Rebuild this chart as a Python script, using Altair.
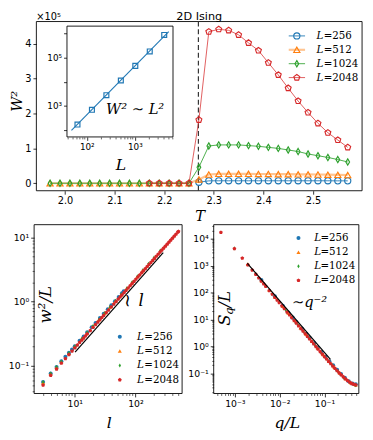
import altair as alt
import pandas as pd

# ------------------------------------------------------------------ data
L_LABELS = ["256", "512", "1024", "2048"]
COLORS = ["#1f77b4", "#ff7f0e", "#2ca02c", "#d62728"]
SHAPES = ["circle", "triangle-up", "M0,-1L0.6,0L0,1L-0.6,0Z",
          "M0,-1L0.951,-0.309L0.588,0.809L-0.588,0.809L-0.951,-0.309Z"]

T_VALUES = [1.97, 1.99, 2.01, 2.03, 2.05, 2.07, 2.09, 2.11, 2.13, 2.15,
            2.17, 2.19, 2.21, 2.23, 2.25, 2.27, 2.29, 2.31, 2.33, 2.35,
            2.37, 2.39, 2.41, 2.43, 2.45, 2.47, 2.49, 2.51, 2.53, 2.55, 2.57]
# W^2 in units of 1e5
W2_256 = [None, None, None, None, None, None, None, None, None, None,
          None, None, None, None, None, 0.028, 0.068, 0.07, 0.07, 0.07,
          0.07, 0.07, 0.07, 0.07, 0.07, 0.07, 0.07, 0.07, 0.07, 0.068, 0.068]
W2_512 = [0.0, 0.0, 0.0, 0.0, 0.0, 0.0, 0.0, 0.0, 0.0, 0.0,
          0.0, 0.0, 0.0, 0.0, 0.0, 0.11, 0.25, 0.27, 0.27, 0.27,
          0.27, 0.265, 0.265, 0.26, 0.26, 0.255, 0.255, 0.25, 0.245, 0.24, 0.235]
W2_1024 = [0.0, 0.0, 0.0, 0.0, 0.0, 0.0, 0.0, 0.0, 0.0, 0.0,
           0.0, 0.0, 0.0, 0.0, 0.0, 0.46, 1.07, 1.10, 1.10, 1.10,
           1.08, 1.06, 1.03, 1.00, 0.955, 0.91, 0.84, 0.79, 0.74, 0.68, 0.61]
W2_2048 = [None, None, None, None, None, None, None, None, None, None,
           0.0, 0.0, 0.0, 0.0, 0.0, 1.82, 4.35, 4.42, 4.39, 4.26,
           4.03, 3.81, 3.46, 3.11, 2.73, 2.36, 2.03, 1.72, 1.45, 1.24, 1.03]
T_C = 2.269

INSET_L = [64, 128, 256, 512, 1024, 2048, 4096]
INSET_W2 = [169, 690, 2790, 11350, 46000, 182000, 880000]
INSET_FIT_L = [48, 5080]
INSET_FIT_W2 = [97, 1.21e6]

BL_L_256 = [3, 4, 5, 6, 7, 8, 9, 10, 12, 14, 16, 19, 22, 26, 30, 35, 40, 46, 53, 60, 64]
BL_W_256 = [0.056, 0.076, 0.096, 0.118, 0.138, 0.159, 0.180, 0.201, 0.245, 0.287, 0.332,
            0.398, 0.464, 0.554, 0.646, 0.760, 0.876, 1.015, 1.180, 1.345, 1.441]
BL_L_512 = [3, 4, 5, 6, 8, 10, 13, 16, 20, 25, 31, 38, 47, 58, 72, 88, 108, 128]
BL_W_512 = [0.055, 0.075, 0.095, 0.115, 0.156, 0.198, 0.261, 0.326, 0.412, 0.522, 0.655,
            0.813, 1.019, 1.274, 1.602, 1.981, 2.462, 2.947]
BL_L_1024 = [3, 4, 5, 6, 8, 10, 13, 16, 20, 25, 31, 38, 47, 58, 72, 88, 108, 133, 164, 202, 256]
BL_W_1024 = [0.056, 0.076, 0.096, 0.117, 0.158, 0.200, 0.264, 0.329, 0.416, 0.527, 0.662,
             0.821, 1.029, 1.286, 1.617, 2.000, 2.485, 3.099, 3.869, 4.827, 6.203]
BL_L_2048 = [3, 4, 5, 6, 7, 8, 9, 10, 11, 12, 13, 14, 15, 16, 18, 20, 22, 24, 26, 28, 30,
             33, 36, 40, 44, 48, 52, 56, 60, 65, 70, 76, 82, 88, 95, 102, 110, 118, 127,
             136, 146, 157, 168, 180, 193, 207, 222, 238, 255, 273, 292, 313, 335, 358,
             383, 410, 438, 468, 500, 512]
BL_W_2048 = [0.050, 0.071, 0.089, 0.110, 0.129, 0.150, 0.170, 0.190, 0.210, 0.231, 0.251,
             0.271, 0.292, 0.313, 0.354, 0.396, 0.438, 0.481, 0.523, 0.566, 0.609, 0.674,
             0.739, 0.826, 0.914, 1.002, 1.091, 1.180, 1.269, 1.382, 1.495, 1.631, 1.768,
             1.905, 2.066, 2.228, 2.413, 2.600, 2.810, 3.022, 3.258, 3.519, 3.781, 4.068,
             4.380, 4.717, 5.080, 5.469, 5.884, 6.325, 6.79, 7.31, 7.86, 8.43, 9.06, 9.73,
             10.44, 11.20, 12.01, 12.32]
BL_FIT_L = [10.1, 287]
BL_FIT_W = [0.163, 5.77]

BR_Q_256 = [0.003906, 0.007813, 0.01172, 0.01563, 0.01953, 0.02344, 0.03125, 0.03906,
            0.04688, 0.05859, 0.07031, 0.08594, 0.1055, 0.1289, 0.1563, 0.1914, 0.2344,
            0.2852, 0.3477, 0.4219, 0.5]
BR_S_256 = [293, 73.0, 32.5, 18.3, 11.7, 8.13, 4.58, 2.94, 2.04, 1.31, 0.917, 0.619,
            0.416, 0.283, 0.198, 0.137, 0.094, 0.068, 0.051, 0.042, 0.039]
BR_Q_512 = [0.001953, 0.003906, 0.005859, 0.007813, 0.01172, 0.01563, 0.02148, 0.0293,
            0.03906, 0.05273, 0.07031, 0.09375, 0.125, 0.166, 0.2207, 0.293, 0.3906, 0.5]
BR_S_512 = [1115, 279, 124, 69.7, 31.0, 17.4, 9.23, 4.97, 2.80, 1.54, 0.875, 0.498,
            0.287, 0.168, 0.102, 0.064, 0.045, 0.038]
BR_Q_1024 = [0.000977, 0.001953, 0.00293, 0.003906, 0.004883, 0.006836, 0.009766, 0.01367,
             0.01855, 0.02539, 0.03418, 0.0459, 0.06152, 0.08301, 0.1113, 0.1494, 0.2002,
             0.2686, 0.3604, 0.4834, 0.5]
BR_S_1024 = [4350, 1090, 485, 273, 175, 89.0, 43.6, 22.3, 12.1, 6.46, 3.57, 1.99, 1.11,
             0.617, 0.349, 0.200, 0.118, 0.070, 0.047, 0.037, 0.036]
BR_Q_2048 = [0.000488, 0.000977, 0.001465, 0.001953, 0.002441, 0.00293, 0.003418, 0.003906,
             0.004395, 0.004883, 0.005859, 0.006836, 0.007813, 0.008789, 0.009766, 0.01123,
             0.0127, 0.01465, 0.0166, 0.01855, 0.021, 0.02344, 0.02637, 0.02979, 0.0332,
             0.03711, 0.0415, 0.04639, 0.05176, 0.05762, 0.06445, 0.07178, 0.08008, 0.08936,
             0.09961, 0.1108, 0.1235, 0.1377, 0.1533, 0.1709, 0.1904, 0.2119, 0.2358, 0.2627,
             0.2925, 0.3257, 0.3628, 0.4038, 0.4497, 0.5]
BR_S_2048 = [17000, 4250, 1889, 1062, 680, 472, 347, 266, 210, 170, 118, 86.8, 66.4, 52.5,
             42.5, 32.2, 25.2, 18.9, 14.7, 11.8, 9.21, 7.39, 5.84, 4.58, 3.69, 2.96, 2.37,
             1.90, 1.53, 1.23, 0.989, 0.800, 0.645, 0.521, 0.422, 0.344, 0.279, 0.228, 0.186,
             0.153, 0.126, 0.105, 0.088, 0.074, 0.063, 0.054, 0.047, 0.042, 0.039, 0.037]
BR_FIT_Q = [0.0019, 0.136]
BR_FIT_S = [1200, 0.33]

# ------------------------------------------------------------------ layout helpers
M = 8
W, H = 357, 424


def cx(p):
    return p - M


def cy(p):
    return p - M


def lin(dom, rng):
    return alt.Scale(type="linear", domain=dom, range=rng, zero=False, nice=False)


def lg(dom, rng):
    return alt.Scale(type="log", domain=dom, range=rng, nice=False)


MATH = "DejaVu Serif"
SANS = "DejaVu Sans"
SUP = str.maketrans("-0123456789", "⁻⁰¹²³⁴⁵⁶⁷⁸⁹")
PT_SIZE = 17


def pow_expr(exps):
    s = ""
    for e in exps:
        s += f"abs(log(datum.value)/LN10 - ({e})) < 0.01 ? '10{str(e).translate(SUP)}' : "
    return s + "''"


def axis(orient, offset, values, **kw):
    base = dict(orient=orient, offset=offset, values=values, domain=False, grid=False,
                ticks=True, tickSize=3.5, tickWidth=0.8, tickColor="#000",
                labelFont=SANS, labelFontSize=10, labelColor="#000", labelPadding=2,
                labelOverlap=False, labelFlush=False, labelBound=False,
                titleFont=MATH, titleFontStyle="italic", titleFontWeight="normal",
                titleColor="#000", title="")
    base.update(kw)
    return alt.Axis(**base)


class Panel:
    def __init__(self, xs, ys, xa, ya, xdom, ydom):
        self.xs, self.ys, self.xa, self.ya = xs, ys, xa, ya
        self.xdom, self.ydom = xdom, ydom

    def x(self, f):
        return alt.X(f, type="quantitative", scale=self.xs, axis=self.xa)

    def y(self, f):
        return alt.Y(f, type="quantitative", scale=self.ys, axis=self.ya)

    def xd(self, v):
        return alt.XDatum(v, type="quantitative", scale=self.xs, axis=self.xa)

    def yd(self, v):
        return alt.YDatum(v, type="quantitative", scale=self.ys, axis=self.ya)


ONE = pd.DataFrame({"k": [0]})
COL = alt.Color("L:N", scale=alt.Scale(domain=L_LABELS, range=COLORS), legend=None)
SHP = alt.Shape("L:N", scale=alt.Scale(domain=L_LABELS, range=SHAPES), legend=None)


def frame(p, fill="#ffffff", fo=0.0):
    return alt.Chart(ONE).mark_rect(fill=fill, fillOpacity=fo, stroke="#000",
                                    strokeWidth=0.9).encode(
        x=p.xd(p.xdom[0]), x2=alt.X2Datum(p.xdom[1]),
        y=p.yd(p.ydom[0]), y2=alt.Y2Datum(p.ydom[1]))


def text(p, x, y, s, **kw):
    return alt.Chart(ONE).mark_text(text=s, **kw).encode(x=p.xd(x), y=p.yd(y))


def minor_child(scale, orient, offset, vals, ch):
    df = pd.DataFrame({"v": vals})
    ax = alt.Axis(orient=orient, offset=offset, values=vals, labels=False, domain=False,
                  grid=False, ticks=True, tickSize=2, tickWidth=0.6, tickColor="#000",
                  title="")
    enc = alt.X("v:Q", scale=scale, axis=ax) if ch == "x" else alt.Y("v:Q", scale=scale, axis=ax)
    return alt.Chart(df).mark_rule(opacity=0).encode(**{ch: enc})


def minors(lo, hi):
    out = []
    for e in range(-5, 7):
        for m in range(2, 10):
            v = m * 10.0 ** e
            if lo < v < hi:
                out.append(v)
    return out


# ------------------------------------------------------------------ top panel
TX_DOM = [1.9424, 2.5989]
TY_DOM = [-0.216, 4.643]
TOP = Panel(
    lin(TX_DOM, [cx(37), cx(370)]), lin(TY_DOM, [cy(190), cy(17)]),
    axis("bottom", cy(190) - H, [2.0, 2.1, 2.2, 2.3, 2.4, 2.5], format=".1f",
         title="T", titleFontSize=15, titleX=cx(204), titleY=cy(220) - cy(190),
         titleAlign="center", titleBaseline="alphabetic", titleAngle=0),
    axis("left", -cx(37), [0, 1, 2, 3, 4], format="d",
         title="W²", titleFontSize=15, titleAngle=270, titleX=cx(21.5) - cx(37),
         titleY=cy(98), titleAlign="center", titleBaseline="alphabetic"),
    TX_DOM, TY_DOM)

top_layers = [
    frame(TOP),
    alt.Chart(ONE).mark_rule(strokeDash=[5, 3], color="#333", strokeWidth=1.2).encode(
        x=TOP.xd(T_C), y=TOP.yd(TY_DOM[0]), y2=alt.Y2Datum(TY_DOM[1])),
]
line_style = {"256": (1.0, 0.9), "512": (2.2, 0.45), "1024": (1.0, 0.85), "2048": (1.0, 0.75)}
for lab, vals in zip(L_LABELS, [W2_256, W2_512, W2_1024, W2_2048]):
    df = pd.DataFrame({"T": T_VALUES, "W2": vals}).dropna()
    df["L"] = lab
    lw, op = line_style[lab]
    top_layers.append(alt.Chart(df).mark_line(strokeWidth=lw, opacity=op).encode(
        x=TOP.x("T"), y=TOP.y("W2"), color=COL))
    top_layers.append(alt.Chart(df).mark_point(filled=False, size=40, strokeWidth=1.15,
                                               opacity=1).encode(
        x=TOP.x("T"), y=TOP.y("W2"), color=COL, shape=SHP))
top_layers.append(text(TOP, 2.2707, 4.699, "2D Ising", font=SANS, fontSize=11.5,
                       align="center", baseline="alphabetic", color="#000"))
top_layers.append(text(TOP, TX_DOM[0], 4.699, "×10⁵", font=SANS, fontSize=10,
                       align="left", baseline="alphabetic", color="#000"))
top_panel = alt.layer(*top_layers)

# ------------------------------------------------------------------ inset
IX_DOM = [38.7, 6240]
IY_DOM = [51.8, 2.04e6]
INS = Panel(
    lg(IX_DOM, [cx(68.3), cx(176.7)]), lg(IY_DOM, [cy(135), cy(21.7)]),
    axis("bottom", cy(135) - H, [100, 1000], labelExpr=pow_expr([2, 3]), labelFontSize=9,
         title="L", titleFontSize=16, titleX=cx(123), titleY=cy(168) - cy(135),
         titleAlign="center", titleBaseline="alphabetic", titleAngle=0),
    axis("left", -cx(68.3), [1e2, 1e3, 1e4, 1e5, 1e6], labelExpr=pow_expr([3, 5]),
         labelFontSize=9),
    IX_DOM, IY_DOM)
ins_pts = pd.DataFrame({"Lv": INSET_L, "W2": INSET_W2})
ins_fit = pd.DataFrame({"Lv": INSET_FIT_L, "W2": INSET_FIT_W2})
inset_panel = alt.layer(
    frame(INS, fo=1.0),
    alt.Chart(ins_fit).mark_line(color="#1f77b4", strokeWidth=1.1).encode(
        x=INS.x("Lv"), y=INS.y("W2")),
    alt.Chart(ins_pts).mark_point(shape="square", filled=False, size=25, strokeWidth=1.2,
                                  color="#1f77b4", opacity=1).encode(
        x=INS.x("Lv"), y=INS.y("W2")),
    text(INS, 1018, 741, "W² ∼ L²", font=MATH, fontStyle="italic", fontSize=15,
         align="center", baseline="middle", color="#000"),
)

# ------------------------------------------------------------------ bottom-left
BLX_DOM = [2.133, 587.6]
BLY_DOM = [0.0371, 15.72]
BL = Panel(
    lg(BLX_DOM, [cx(34.7), cx(186)]), lg(BLY_DOM, [cy(397.3), cy(224.7)]),
    axis("bottom", cy(397.3) - H, [10, 100], labelExpr=pow_expr([1, 2]), labelFontSize=9.5,
         title="l", titleFontSize=16, titleX=cx(111), titleY=cy(432) - cy(397.3),
         titleAlign="center", titleBaseline="alphabetic", titleAngle=0),
    axis("left", -cx(34.7), [0.1, 1, 10], labelExpr=pow_expr([-1, 0, 1]), labelFontSize=9.5),
    BLX_DOM, BLY_DOM)
bl_layers = [frame(BL)]
for lab, ls, ws in zip(L_LABELS, [BL_L_256, BL_L_512, BL_L_1024, BL_L_2048],
                       [BL_W_256, BL_W_512, BL_W_1024, BL_W_2048]):
    df = pd.DataFrame({"l": ls, "w": ws, "L": lab})
    bl_layers.append(alt.Chart(df).mark_point(filled=True, size=PT_SIZE, opacity=1).encode(
        x=BL.x("l"), y=BL.y("w"), color=COL, shape=SHP))
bl_layers.append(alt.Chart(pd.DataFrame({"l": BL_FIT_L, "w": BL_FIT_W})).mark_line(
    color="#000", strokeWidth=1.2).encode(x=BL.x("l"), y=BL.y("w")))
bl_layers.append(text(BL, 4.06, 0.894, "w²/L", font=MATH, fontStyle="italic", fontSize=17,
                      angle=270, align="center", baseline="alphabetic", color="#000"))
bl_layers.append(text(BL, 73.5, 1.03, "∼", font=MATH, fontSize=18, angle=90,
                      align="center", baseline="middle", color="#000"))
bl_layers.append(text(BL, 123.6, 0.839, "l", font=MATH, fontStyle="italic", fontSize=17,
                      align="center", baseline="alphabetic", color="#000"))
bl_panel = alt.layer(*bl_layers)

# ------------------------------------------------------------------ bottom-right
BRX_DOM = [3.37e-4, 0.585]
BRY_DOM = [0.01786, 33000]
BR = Panel(
    lg(BRX_DOM, [cx(218.3), cx(366.7)]), lg(BRY_DOM, [cy(397.3), cy(224.7)]),
    axis("bottom", cy(397.3) - H, [1e-3, 1e-2, 1e-1], labelExpr=pow_expr([-3, -2, -1]),
         labelFontSize=9.5, title="q/L", titleFontSize=16, titleX=cx(293),
         titleY=cy(432) - cy(397.3), titleAlign="center", titleBaseline="alphabetic",
         titleAngle=0),
    axis("left", -cx(218.3), [0.1, 1, 10, 100, 1000, 10000],
         labelExpr=pow_expr([-1, 0, 1, 2, 3, 4]), labelFontSize=9.5),
    BRX_DOM, BRY_DOM)
br_layers = [frame(BR)]
for lab, qs, ss in zip(L_LABELS, [BR_Q_256, BR_Q_512, BR_Q_1024, BR_Q_2048],
                       [BR_S_256, BR_S_512, BR_S_1024, BR_S_2048]):
    df = pd.DataFrame({"q": qs, "s": ss, "L": lab})
    br_layers.append(alt.Chart(df).mark_point(filled=True, size=PT_SIZE, opacity=1).encode(
        x=BR.x("q"), y=BR.y("s"), color=COL, shape=SHP))
br_layers.append(alt.Chart(pd.DataFrame({"q": BR_FIT_Q, "s": BR_FIT_S})).mark_line(
    color="#000", strokeWidth=1.2).encode(x=BR.x("q"), y=BR.y("s")))
br_layers.append(text(BR, 7.99e-4, 5.87, "S", font=MATH, fontStyle="italic", fontSize=17,
                      angle=270, align="left", baseline="alphabetic", color="#000"))
br_layers.append(text(BR, 9.29e-4, 14.7, "q", font=MATH, fontStyle="italic", fontSize=12,
                      angle=270, align="left", baseline="alphabetic", color="#000"))
br_layers.append(text(BR, 7.99e-4, 27.5, "/L", font=MATH, fontStyle="italic", fontSize=17,
                      angle=270, align="left", baseline="alphabetic", color="#000"))
br_layers.append(text(BR, 0.0188, 28.7, "∼q⁻²", font=MATH, fontStyle="italic", fontSize=15,
                      align="left", baseline="alphabetic", color="#000"))
br_panel = alt.layer(*br_layers)


# ------------------------------------------------------------------ legends
def legend_child(p, y0, y1, sym_x, l_x, eq_x, top_style):
    ysc = alt.Scale(type="point", domain=L_LABELS, range=[cy(y0), cy(y1)], padding=0)
    yenc = alt.Y("L:N", scale=ysc, axis=None)

    def xd(v):
        return alt.XDatum(v, type="quantitative", scale=p.xs, axis=None)

    layers = []
    for lab in L_LABELS:
        d = pd.DataFrame({"L": [lab], "lab": ["=" + lab]})
        if top_style:
            lw, op = line_style[lab]
            layers.append(alt.Chart(d).mark_rule(strokeWidth=lw, opacity=op).encode(
                x=xd(sym_x[0]), x2=alt.X2Datum(sym_x[2]), y=yenc, color=COL))
            layers.append(alt.Chart(d).mark_point(filled=False, size=40, strokeWidth=1.15,
                                                  opacity=1).encode(
                x=xd(sym_x[1]), y=yenc, color=COL, shape=SHP))
        else:
            layers.append(alt.Chart(d).mark_point(filled=True, size=PT_SIZE, opacity=1).encode(
                x=xd(sym_x[1]), y=yenc, color=COL, shape=SHP))
        layers.append(alt.Chart(d).mark_text(text="L", font=MATH, fontStyle="italic",
                                             fontSize=10.5, align="left", baseline="middle",
                                             color="#000").encode(x=xd(l_x), y=yenc))
        layers.append(alt.Chart(d).mark_text(font=MATH, fontSize=10.5, align="left",
                                             baseline="middle", color="#000").encode(
            x=xd(eq_x), y=yenc, text="lab:N"))
    return alt.layer(*layers)


leg_top = legend_child(TOP, 31.7, 74.3, [2.4511, 2.4674, 2.4840], 2.5069, 2.5215, True)
leg_bl = legend_child(BL, 339.3, 383.3, [None, 55.2, None], 106.4, 140.3, False)
leg_br = legend_child(BR, 238.3, 281.7, [None, 0.0263, None], 0.05881, 0.0815, False)

# ------------------------------------------------------------------ minor ticks
minor_children = [
    minor_child(INS.xs, "bottom", cy(135) - H, minors(*IX_DOM), "x"),
    minor_child(BL.xs, "bottom", cy(397.3) - H, minors(*BLX_DOM), "x"),
    minor_child(BL.ys, "left", -cx(34.7), minors(*BLY_DOM), "y"),
    minor_child(BR.xs, "bottom", cy(397.3) - H, minors(*BRX_DOM), "x"),
    minor_child(BR.ys, "left", -cx(218.3), minors(*BRY_DOM), "y"),
]

chart = alt.layer(
    top_panel, inset_panel, bl_panel, br_panel, leg_top, leg_bl, leg_br, *minor_children
).resolve_scale(x="independent", y="independent").properties(
    width=W, height=H,
    padding={"left": 0, "top": 0, "right": 8, "bottom": 8},
    autosize=alt.AutoSizeParams(type="none"),
).configure_view(stroke="transparent")

chart.save("out.html", embed_options={"renderer": "svg", "actions": False})
